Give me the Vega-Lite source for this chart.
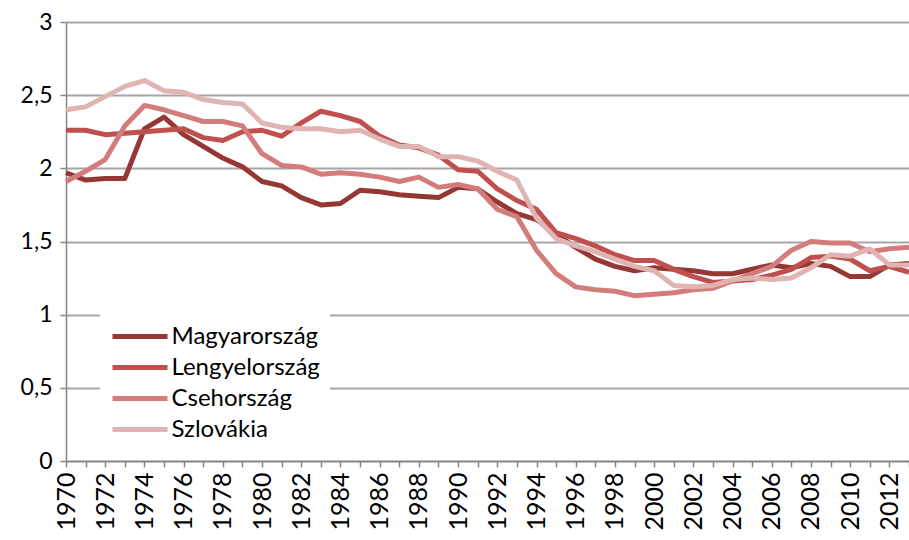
{
  "$schema": "https://vega.github.io/schema/vega-lite/v6.json",
  "width": 843,
  "height": 439,
  "autosize": {"type": "none"},
  "padding": {"left": 66, "top": 22, "right": 0, "bottom": 79},
  "background": "white",
  "config": {
    "view": {"stroke": null},
    "font": "Lato",
    "axis": {"labelFont": "Lato", "labelColor": "#000000"},
    "legend": {"labelFont": "Lato"}
  },
  "data": {"values": [
    {"year":1970,"country":"Magyarország","tfr":1.97},{"year":1971,"country":"Magyarország","tfr":1.92},{"year":1972,"country":"Magyarország","tfr":1.93},{"year":1973,"country":"Magyarország","tfr":1.93},{"year":1974,"country":"Magyarország","tfr":2.27},{"year":1975,"country":"Magyarország","tfr":2.35},{"year":1976,"country":"Magyarország","tfr":2.23},{"year":1977,"country":"Magyarország","tfr":2.15},{"year":1978,"country":"Magyarország","tfr":2.07},{"year":1979,"country":"Magyarország","tfr":2.01},{"year":1980,"country":"Magyarország","tfr":1.91},{"year":1981,"country":"Magyarország","tfr":1.88},{"year":1982,"country":"Magyarország","tfr":1.80},{"year":1983,"country":"Magyarország","tfr":1.75},{"year":1984,"country":"Magyarország","tfr":1.76},{"year":1985,"country":"Magyarország","tfr":1.85},{"year":1986,"country":"Magyarország","tfr":1.84},{"year":1987,"country":"Magyarország","tfr":1.82},{"year":1988,"country":"Magyarország","tfr":1.81},{"year":1989,"country":"Magyarország","tfr":1.80},{"year":1990,"country":"Magyarország","tfr":1.87},{"year":1991,"country":"Magyarország","tfr":1.86},{"year":1992,"country":"Magyarország","tfr":1.77},{"year":1993,"country":"Magyarország","tfr":1.69},{"year":1994,"country":"Magyarország","tfr":1.65},{"year":1995,"country":"Magyarország","tfr":1.55},{"year":1996,"country":"Magyarország","tfr":1.46},{"year":1997,"country":"Magyarország","tfr":1.38},{"year":1998,"country":"Magyarország","tfr":1.33},{"year":1999,"country":"Magyarország","tfr":1.30},{"year":2000,"country":"Magyarország","tfr":1.32},{"year":2001,"country":"Magyarország","tfr":1.31},{"year":2002,"country":"Magyarország","tfr":1.30},{"year":2003,"country":"Magyarország","tfr":1.28},{"year":2004,"country":"Magyarország","tfr":1.28},{"year":2005,"country":"Magyarország","tfr":1.31},{"year":2006,"country":"Magyarország","tfr":1.34},{"year":2007,"country":"Magyarország","tfr":1.32},{"year":2008,"country":"Magyarország","tfr":1.35},{"year":2009,"country":"Magyarország","tfr":1.33},{"year":2010,"country":"Magyarország","tfr":1.26},{"year":2011,"country":"Magyarország","tfr":1.26},{"year":2012,"country":"Magyarország","tfr":1.34},{"year":2013,"country":"Magyarország","tfr":1.35},
    {"year":1970,"country":"Lengyelország","tfr":2.26},{"year":1971,"country":"Lengyelország","tfr":2.26},{"year":1972,"country":"Lengyelország","tfr":2.23},{"year":1973,"country":"Lengyelország","tfr":2.24},{"year":1974,"country":"Lengyelország","tfr":2.25},{"year":1975,"country":"Lengyelország","tfr":2.26},{"year":1976,"country":"Lengyelország","tfr":2.27},{"year":1977,"country":"Lengyelország","tfr":2.21},{"year":1978,"country":"Lengyelország","tfr":2.19},{"year":1979,"country":"Lengyelország","tfr":2.25},{"year":1980,"country":"Lengyelország","tfr":2.26},{"year":1981,"country":"Lengyelország","tfr":2.22},{"year":1982,"country":"Lengyelország","tfr":2.31},{"year":1983,"country":"Lengyelország","tfr":2.39},{"year":1984,"country":"Lengyelország","tfr":2.36},{"year":1985,"country":"Lengyelország","tfr":2.32},{"year":1986,"country":"Lengyelország","tfr":2.22},{"year":1987,"country":"Lengyelország","tfr":2.16},{"year":1988,"country":"Lengyelország","tfr":2.14},{"year":1989,"country":"Lengyelország","tfr":2.09},{"year":1990,"country":"Lengyelország","tfr":1.99},{"year":1991,"country":"Lengyelország","tfr":1.98},{"year":1992,"country":"Lengyelország","tfr":1.86},{"year":1993,"country":"Lengyelország","tfr":1.78},{"year":1994,"country":"Lengyelország","tfr":1.72},{"year":1995,"country":"Lengyelország","tfr":1.56},{"year":1996,"country":"Lengyelország","tfr":1.52},{"year":1997,"country":"Lengyelország","tfr":1.47},{"year":1998,"country":"Lengyelország","tfr":1.41},{"year":1999,"country":"Lengyelország","tfr":1.37},{"year":2000,"country":"Lengyelország","tfr":1.37},{"year":2001,"country":"Lengyelország","tfr":1.31},{"year":2002,"country":"Lengyelország","tfr":1.26},{"year":2003,"country":"Lengyelország","tfr":1.22},{"year":2004,"country":"Lengyelország","tfr":1.23},{"year":2005,"country":"Lengyelország","tfr":1.24},{"year":2006,"country":"Lengyelország","tfr":1.27},{"year":2007,"country":"Lengyelország","tfr":1.31},{"year":2008,"country":"Lengyelország","tfr":1.39},{"year":2009,"country":"Lengyelország","tfr":1.40},{"year":2010,"country":"Lengyelország","tfr":1.38},{"year":2011,"country":"Lengyelország","tfr":1.30},{"year":2012,"country":"Lengyelország","tfr":1.33},{"year":2013,"country":"Lengyelország","tfr":1.29},
    {"year":1970,"country":"Csehország","tfr":1.91},{"year":1971,"country":"Csehország","tfr":1.98},{"year":1972,"country":"Csehország","tfr":2.06},{"year":1973,"country":"Csehország","tfr":2.29},{"year":1974,"country":"Csehország","tfr":2.43},{"year":1975,"country":"Csehország","tfr":2.40},{"year":1976,"country":"Csehország","tfr":2.36},{"year":1977,"country":"Csehország","tfr":2.32},{"year":1978,"country":"Csehország","tfr":2.32},{"year":1979,"country":"Csehország","tfr":2.29},{"year":1980,"country":"Csehország","tfr":2.10},{"year":1981,"country":"Csehország","tfr":2.02},{"year":1982,"country":"Csehország","tfr":2.01},{"year":1983,"country":"Csehország","tfr":1.96},{"year":1984,"country":"Csehország","tfr":1.97},{"year":1985,"country":"Csehország","tfr":1.96},{"year":1986,"country":"Csehország","tfr":1.94},{"year":1987,"country":"Csehország","tfr":1.91},{"year":1988,"country":"Csehország","tfr":1.94},{"year":1989,"country":"Csehország","tfr":1.87},{"year":1990,"country":"Csehország","tfr":1.89},{"year":1991,"country":"Csehország","tfr":1.86},{"year":1992,"country":"Csehország","tfr":1.72},{"year":1993,"country":"Csehország","tfr":1.67},{"year":1994,"country":"Csehország","tfr":1.44},{"year":1995,"country":"Csehország","tfr":1.28},{"year":1996,"country":"Csehország","tfr":1.19},{"year":1997,"country":"Csehország","tfr":1.17},{"year":1998,"country":"Csehország","tfr":1.16},{"year":1999,"country":"Csehország","tfr":1.13},{"year":2000,"country":"Csehország","tfr":1.14},{"year":2001,"country":"Csehország","tfr":1.15},{"year":2002,"country":"Csehország","tfr":1.17},{"year":2003,"country":"Csehország","tfr":1.18},{"year":2004,"country":"Csehország","tfr":1.23},{"year":2005,"country":"Csehország","tfr":1.28},{"year":2006,"country":"Csehország","tfr":1.33},{"year":2007,"country":"Csehország","tfr":1.44},{"year":2008,"country":"Csehország","tfr":1.50},{"year":2009,"country":"Csehország","tfr":1.49},{"year":2010,"country":"Csehország","tfr":1.49},{"year":2011,"country":"Csehország","tfr":1.43},{"year":2012,"country":"Csehország","tfr":1.45},{"year":2013,"country":"Csehország","tfr":1.46},
    {"year":1970,"country":"Szlovákia","tfr":2.40},{"year":1971,"country":"Szlovákia","tfr":2.42},{"year":1972,"country":"Szlovákia","tfr":2.49},{"year":1973,"country":"Szlovákia","tfr":2.56},{"year":1974,"country":"Szlovákia","tfr":2.60},{"year":1975,"country":"Szlovákia","tfr":2.53},{"year":1976,"country":"Szlovákia","tfr":2.52},{"year":1977,"country":"Szlovákia","tfr":2.47},{"year":1978,"country":"Szlovákia","tfr":2.45},{"year":1979,"country":"Szlovákia","tfr":2.44},{"year":1980,"country":"Szlovákia","tfr":2.31},{"year":1981,"country":"Szlovákia","tfr":2.28},{"year":1982,"country":"Szlovákia","tfr":2.27},{"year":1983,"country":"Szlovákia","tfr":2.27},{"year":1984,"country":"Szlovákia","tfr":2.25},{"year":1985,"country":"Szlovákia","tfr":2.26},{"year":1986,"country":"Szlovákia","tfr":2.20},{"year":1987,"country":"Szlovákia","tfr":2.15},{"year":1988,"country":"Szlovákia","tfr":2.15},{"year":1989,"country":"Szlovákia","tfr":2.08},{"year":1990,"country":"Szlovákia","tfr":2.08},{"year":1991,"country":"Szlovákia","tfr":2.05},{"year":1992,"country":"Szlovákia","tfr":1.98},{"year":1993,"country":"Szlovákia","tfr":1.92},{"year":1994,"country":"Szlovákia","tfr":1.66},{"year":1995,"country":"Szlovákia","tfr":1.52},{"year":1996,"country":"Szlovákia","tfr":1.47},{"year":1997,"country":"Szlovákia","tfr":1.43},{"year":1998,"country":"Szlovákia","tfr":1.38},{"year":1999,"country":"Szlovákia","tfr":1.33},{"year":2000,"country":"Szlovákia","tfr":1.30},{"year":2001,"country":"Szlovákia","tfr":1.20},{"year":2002,"country":"Szlovákia","tfr":1.19},{"year":2003,"country":"Szlovákia","tfr":1.20},{"year":2004,"country":"Szlovákia","tfr":1.24},{"year":2005,"country":"Szlovákia","tfr":1.25},{"year":2006,"country":"Szlovákia","tfr":1.24},{"year":2007,"country":"Szlovákia","tfr":1.25},{"year":2008,"country":"Szlovákia","tfr":1.32},{"year":2009,"country":"Szlovákia","tfr":1.41},{"year":2010,"country":"Szlovákia","tfr":1.40},{"year":2011,"country":"Szlovákia","tfr":1.45},{"year":2012,"country":"Szlovákia","tfr":1.34},{"year":2013,"country":"Szlovákia","tfr":1.34}
  ]},
  "mark": {"type": "line", "strokeWidth": 5, "strokeJoin": "round", "strokeCap": "butt"},
  "encoding": {
    "x": {
      "field": "year", "type": "ordinal",
      "scale": {"type": "point", "padding": 0},
      "axis": {
        "title": null, "labelAngle": -90, "labelFontSize": 25, "labelPadding": 5,
        "labelExpr": "datum.value % 2 == 0 ? datum.label : ''",
        "tickSize": 6, "tickColor": "#868686", "tickWidth": 1.5,
        "domainColor": "#868686", "domainWidth": 1.5, "grid": false
      }
    },
    "y": {
      "field": "tfr", "type": "quantitative",
      "scale": {"domain": [0, 3], "nice": false, "zero": true},
      "axis": {
        "title": null, "values": [0, 0.5, 1, 1.5, 2, 2.5, 3],
        "labelExpr": "replace(format(datum.value, '~g'), '.', ',')",
        "labelFontSize": 23, "labelPadding": 8,
        "tickSize": 6, "tickColor": "#868686", "tickWidth": 1.5,
        "domainColor": "#868686", "domainWidth": 1.5,
        "grid": true, "gridColor": "#a6a6a6", "gridWidth": 2
      }
    },
    "color": {
      "field": "country", "type": "nominal",
      "scale": {
        "domain": ["Magyarország", "Lengyelország", "Csehország", "Szlovákia"],
        "range": ["#953735", "#c0504d", "#d27d7b", "#e0b4b3"]
      },
      "legend": {
        "title": null, "orient": "none", "legendX": 34, "legendY": 291,
        "direction": "vertical",
        "fillColor": "white", "padding": 10,
        "symbolType": "M-2.5,0H2.5", "symbolSize": 484, "symbolStrokeWidth": 5,
        "symbolOffset": 16.5, "labelOffset": 18,
        "labelFontSize": 24, "labelColor": "#000000", "labelLimit": 400,
        "rowPadding": 5
      }
    }
  }
}
